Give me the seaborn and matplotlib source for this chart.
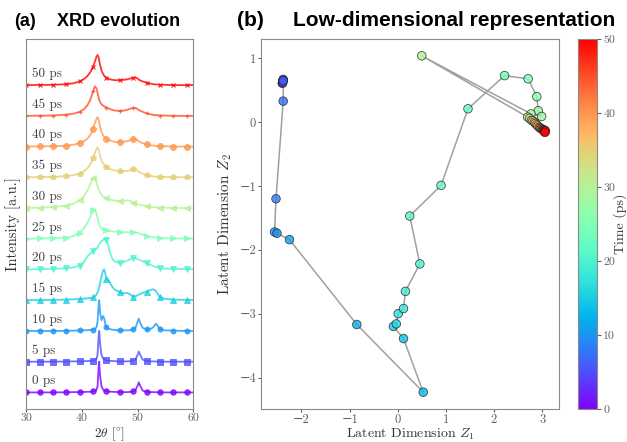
import numpy as np
import pandas as pd
import matplotlib
matplotlib.use("Agg")
import matplotlib.pyplot as plt
import seaborn as sns
from matplotlib.colors import Normalize
from matplotlib.cm import ScalarMappable

# ---------------- data ----------------
two_theta = [30.0, 32.4, 34.8, 37.2, 38.5, 39.6, 40.4, 41.0, 41.5, 42.0, 42.3, 42.6, 42.8,
             43.0, 43.1, 43.25, 43.5, 43.8, 44.0, 44.2, 44.4, 44.7, 45.0, 45.5, 46.0, 46.8,
             47.5, 48.2, 48.8, 49.2, 49.6, 50.0, 50.2, 50.5, 50.9, 51.6, 52.3, 52.8, 53.3,
             53.7, 54.0, 54.8, 56.4, 58.8, 60.0]
marker_idx = [0, 1, 2, 3, 5, 9, 20, 25, 29, 35, 40, 42, 43]

xrd_times = [0, 5, 10, 15, 20, 25, 30, 35, 40, 45, 50]
xrd_markers = ['o', 's', 'h', '^', 'v', '>', '<', 'p', '8', '+', 'x']

int_0ps = [0.0, 0.0, 0.0, 0.005, 0.01, 0.01, 0.015, 0.02, 0.02, 0.03, 0.04, 0.08, 0.2, 0.85, 1.0,
           0.55, 0.2, 0.09, 0.06, 0.05, 0.04, 0.03, 0.025, 0.02, 0.015, 0.01, 0.01, 0.01, 0.02, 0.03,
           0.07, 0.22, 0.33, 0.2, 0.06, 0.02, 0.01, 0.01, 0.005, 0.005, 0.0, 0.0, 0.0, 0.0, 0.0]
int_5ps = [0.0, 0.0, 0.0, 0.005, 0.01, 0.01, 0.015, 0.02, 0.025, 0.03, 0.045, 0.09, 0.22, 0.85, 1.0,
           0.6, 0.22, 0.1, 0.07, 0.05, 0.04, 0.03, 0.025, 0.02, 0.015, 0.01, 0.01, 0.01, 0.02, 0.03,
           0.07, 0.22, 0.33, 0.21, 0.07, 0.02, 0.01, 0.01, 0.005, 0.005, 0.0, 0.0, 0.0, 0.0, 0.0]
int_10ps = [0.0, 0.0, 0.0, 0.005, 0.01, 0.015, 0.02, 0.025, 0.03, 0.04, 0.06, 0.12, 0.3, 0.88, 1.0,
            0.6, 0.35, 0.49, 0.4, 0.22, 0.13, 0.08, 0.06, 0.04, 0.03, 0.02, 0.02, 0.02, 0.03, 0.05,
            0.1, 0.3, 0.4, 0.25, 0.1, 0.05, 0.06, 0.12, 0.24, 0.14, 0.06, 0.02, 0.01, 0.0, 0.0]
int_15ps = [0.0, 0.005, 0.01, 0.02, 0.03, 0.04, 0.05, 0.06, 0.07, 0.09, 0.12, 0.18, 0.25, 0.35, 0.42,
            0.55, 0.78, 0.97, 1.0, 0.85, 0.68, 0.68, 0.58, 0.42, 0.33, 0.27, 0.22, 0.24, 0.17, 0.12,
            0.13, 0.16, 0.18, 0.2, 0.24, 0.28, 0.33, 0.36, 0.3, 0.18, 0.1, 0.05, 0.02, 0.01, 0.01]
int_20ps = [0.0, 0.01, 0.02, 0.04, 0.07, 0.12, 0.25, 0.43, 0.52, 0.6, 0.64, 0.68, 0.72, 0.78, 0.82,
            0.86, 0.92, 0.97, 0.97, 0.98, 0.96, 0.8, 0.57, 0.33, 0.25, 0.21, 0.24, 0.29, 0.35, 0.38,
            0.37, 0.34, 0.32, 0.3, 0.27, 0.2, 0.15, 0.11, 0.08, 0.06, 0.04, 0.03, 0.02, 0.01, 0.01]
int_25ps = [0.0, 0.01, 0.02, 0.04, 0.09, 0.2, 0.35, 0.52, 0.72, 0.93, 0.96, 0.82, 0.68, 0.53, 0.47,
            0.4, 0.33, 0.3, 0.29, 0.28, 0.28, 0.26, 0.25, 0.24, 0.23, 0.22, 0.21, 0.21, 0.22, 0.22,
            0.21, 0.19, 0.18, 0.16, 0.13, 0.09, 0.06, 0.05, 0.04, 0.03, 0.03, 0.02, 0.01, 0.01, 0.0]
int_30ps = [0.0, 0.01, 0.03, 0.08, 0.14, 0.25, 0.4, 0.58, 0.78, 0.97, 0.99, 0.85, 0.72, 0.6, 0.55,
            0.5, 0.44, 0.38, 0.36, 0.34, 0.32, 0.3, 0.28, 0.26, 0.24, 0.22, 0.23, 0.25, 0.22, 0.17,
            0.15, 0.13, 0.12, 0.1, 0.09, 0.06, 0.04, 0.03, 0.02, 0.02, 0.01, 0.01, 0.0, 0.0, 0.0]
int_35ps = [0.0, 0.005, 0.01, 0.04, 0.07, 0.12, 0.2, 0.3, 0.42, 0.62, 0.78, 0.92, 0.97, 0.9, 0.82,
            0.7, 0.55, 0.45, 0.4, 0.37, 0.34, 0.3, 0.27, 0.24, 0.22, 0.2, 0.2, 0.21, 0.24, 0.26,
            0.25, 0.21, 0.18, 0.15, 0.12, 0.07, 0.04, 0.03, 0.02, 0.015, 0.01, 0.01, 0.0, 0.0, 0.0]
int_40ps = [0.0, 0.005, 0.01, 0.03, 0.06, 0.11, 0.18, 0.26, 0.38, 0.58, 0.75, 0.9, 0.96, 0.88, 0.78,
            0.65, 0.48, 0.36, 0.31, 0.28, 0.25, 0.22, 0.2, 0.17, 0.15, 0.15, 0.16, 0.18, 0.21, 0.23,
            0.24, 0.2, 0.17, 0.14, 0.11, 0.07, 0.04, 0.03, 0.02, 0.015, 0.01, 0.01, 0.0, 0.0, 0.0]
int_45ps = [0.0, 0.005, 0.01, 0.04, 0.07, 0.13, 0.22, 0.35, 0.52, 0.8, 0.96, 0.9, 0.75, 0.6, 0.52,
            0.45, 0.38, 0.33, 0.31, 0.29, 0.27, 0.25, 0.22, 0.19, 0.17, 0.16, 0.17, 0.2, 0.24, 0.26,
            0.26, 0.22, 0.19, 0.16, 0.13, 0.08, 0.05, 0.03, 0.02, 0.02, 0.01, 0.01, 0.0, 0.0, 0.0]
int_50ps = [0.0, 0.005, 0.01, 0.03, 0.06, 0.12, 0.2, 0.3, 0.42, 0.6, 0.75, 0.92, 0.98, 0.9, 0.8,
            0.66, 0.48, 0.36, 0.3, 0.27, 0.24, 0.21, 0.19, 0.17, 0.16, 0.16, 0.17, 0.19, 0.22, 0.24,
            0.25, 0.21, 0.18, 0.15, 0.12, 0.08, 0.05, 0.03, 0.02, 0.015, 0.01, 0.01, 0.0, 0.0, 0.0]
xrd_curves = [int_0ps, int_5ps, int_10ps, int_15ps, int_20ps, int_25ps,
              int_30ps, int_35ps, int_40ps, int_45ps, int_50ps]

# latent trajectory, one point per ps
time_ps = list(range(51))
z1 = [-2.40, -2.39, -2.38, -2.39, -2.38, -2.39, -2.38, -2.38, -2.53, -2.56, -2.51,
      -2.25, -0.85, 0.53, 0.12, -0.09, -0.03, 0.01, 0.12, 0.16, 0.46,
      0.25, 0.90, 1.46, 2.22, 2.71, 2.89, 2.92, 2.99, 2.77, 0.50,
      2.70, 2.74, 2.78, 2.81, 2.84, 2.86, 2.89, 2.91, 2.94, 2.96,
      2.98, 3.00, 3.02, 3.03, 3.04, 3.05, 3.06, 3.05, 3.07, 3.06]
z2 = [0.61, 0.63, 0.66, 0.64, 0.67, 0.62, 0.65, 0.33, -1.20, -1.72, -1.74,
      -1.84, -3.17, -4.23, -3.39, -3.20, -3.16, -3.00, -2.92, -2.65, -2.22,
      -1.47, -0.99, 0.21, 0.73, 0.68, 0.40, 0.18, 0.09, 0.13, 1.04,
      0.08, 0.06, 0.03, 0.02, 0.00, -0.02, -0.04, -0.06, -0.08, -0.09,
      -0.10, -0.11, -0.12, -0.13, -0.12, -0.14, -0.13, -0.15, -0.14, -0.16]

# ---------------- style ----------------
sns.set_style("ticks")
plt.rcParams['font.family'] = ['cmr10', 'DejaVu Serif']
plt.rcParams['mathtext.fontset'] = 'cm'
plt.rcParams['axes.formatter.use_mathtext'] = False
plt.rcParams['axes.unicode_minus'] = True
plt.rcParams['axes.edgecolor'] = '#8a8a8a'
plt.rcParams['xtick.color'] = '#606060'
plt.rcParams['ytick.color'] = '#606060'
plt.rcParams['axes.labelcolor'] = '#333333'

W, H = 627, 442
fig = plt.figure(figsize=(W / 100, H / 100), dpi=100)
cmap = plt.get_cmap('rainbow')
norm = Normalize(0, 50)
BOT = 33.0        # px from bottom of figure
AX_H = 370.0      # px

# ---------------- (a) XRD evolution ----------------
axA = fig.add_axes([26.3 / W, BOT / H, 167 / W, AX_H / H])
for i, (t, yv, m) in enumerate(zip(xrd_times, xrd_curves, xrd_markers)):
    c = cmap(norm(t))
    df = pd.DataFrame({'two_theta': two_theta, 'I': np.asarray(yv) + i})
    small = m in ('+', 'x')
    sns.lineplot(data=df, x='two_theta', y='I', ax=axA, color=c, lw=1.3, sort=False,
                 marker=m, markevery=marker_idx, markersize=3.2 if small else 4,
                 mec=c, mew=0.9 if small else 0.6, alpha=0.8, estimator=None)
    axA.text(31.0, i + 0.37, f'{t} ps', fontsize=9.5, color='#404040', va='center', ha='left')
axA.set_xlim(30, 60)
axA.set_ylim(-0.54, 11.5)
axA.set_xticks([30, 40, 50, 60])
axA.set_yticks([])
axA.set_xlabel(r'$2\theta$ [$^{\circ}$]', fontsize=9.5)
axA.xaxis.set_label_coords(0.5, -16.5 / AX_H)
axA.set_ylabel('Intensity [a.u.]', fontsize=10.5)
axA.tick_params(axis='x', labelsize=8.5, length=2.5, pad=1)

# ---------------- (b) latent trajectory ----------------
axB = fig.add_axes([261 / W, BOT / H, 298 / W, AX_H / H])
sns.lineplot(x=z1, y=z2, sort=False, estimator=None, color='#a0a0a0', lw=1.1, ax=axB, zorder=1)
sns.scatterplot(x=z1, y=z2, hue=time_ps, palette='rainbow', hue_norm=(0, 50), s=38,
                edgecolor='#222222', linewidth=0.6, alpha=0.8, legend=False, ax=axB, zorder=3)
axB.set_xticks([-2, -1, 0, 1, 2, 3])
axB.set_yticks([-4, -3, -2, -1, 0, 1])
axB.set_xlabel(r'Latent Dimension $Z_1$', fontsize=10)
axB.xaxis.set_label_coords(0.5, -17.5 / AX_H)
axB.set_ylabel(r'Latent Dimension $Z_2$', fontsize=11)
axB.tick_params(labelsize=9, length=2.5, pad=1)

# ---------------- colorbar ----------------
cax = fig.add_axes([578 / W, BOT / H, 19 / W, AX_H / H])
cb = fig.colorbar(ScalarMappable(norm=norm, cmap=cmap), cax=cax)
cb.set_ticks([0, 10, 20, 30, 40, 50])
cb.ax.tick_params(labelsize=8.5, length=3, pad=1.5)
cb.set_label('Time (ps)', fontsize=10, color='#333333')
cb.ax.yaxis.set_label_coords(35 / 19, 0.5)
cb.outline.set_edgecolor('#8a8a8a')

# ---------------- titles ----------------
tkw = dict(fontfamily='Liberation Sans', fontweight='bold', va='center', color='black')
fig.text(14 / W, 1 - 21.5 / H, '(a)', fontsize=13, **tkw)
fig.text(57 / W, 1 - 21.5 / H, 'XRD evolution', fontsize=13, **tkw)
fig.text(237 / W, 1 - 21 / H, '(b)', fontsize=15, **tkw)
fig.text(293 / W, 1 - 21 / H, 'Low-dimensional representation', fontsize=15, **tkw)

fig.savefig('out.png', dpi=100)
